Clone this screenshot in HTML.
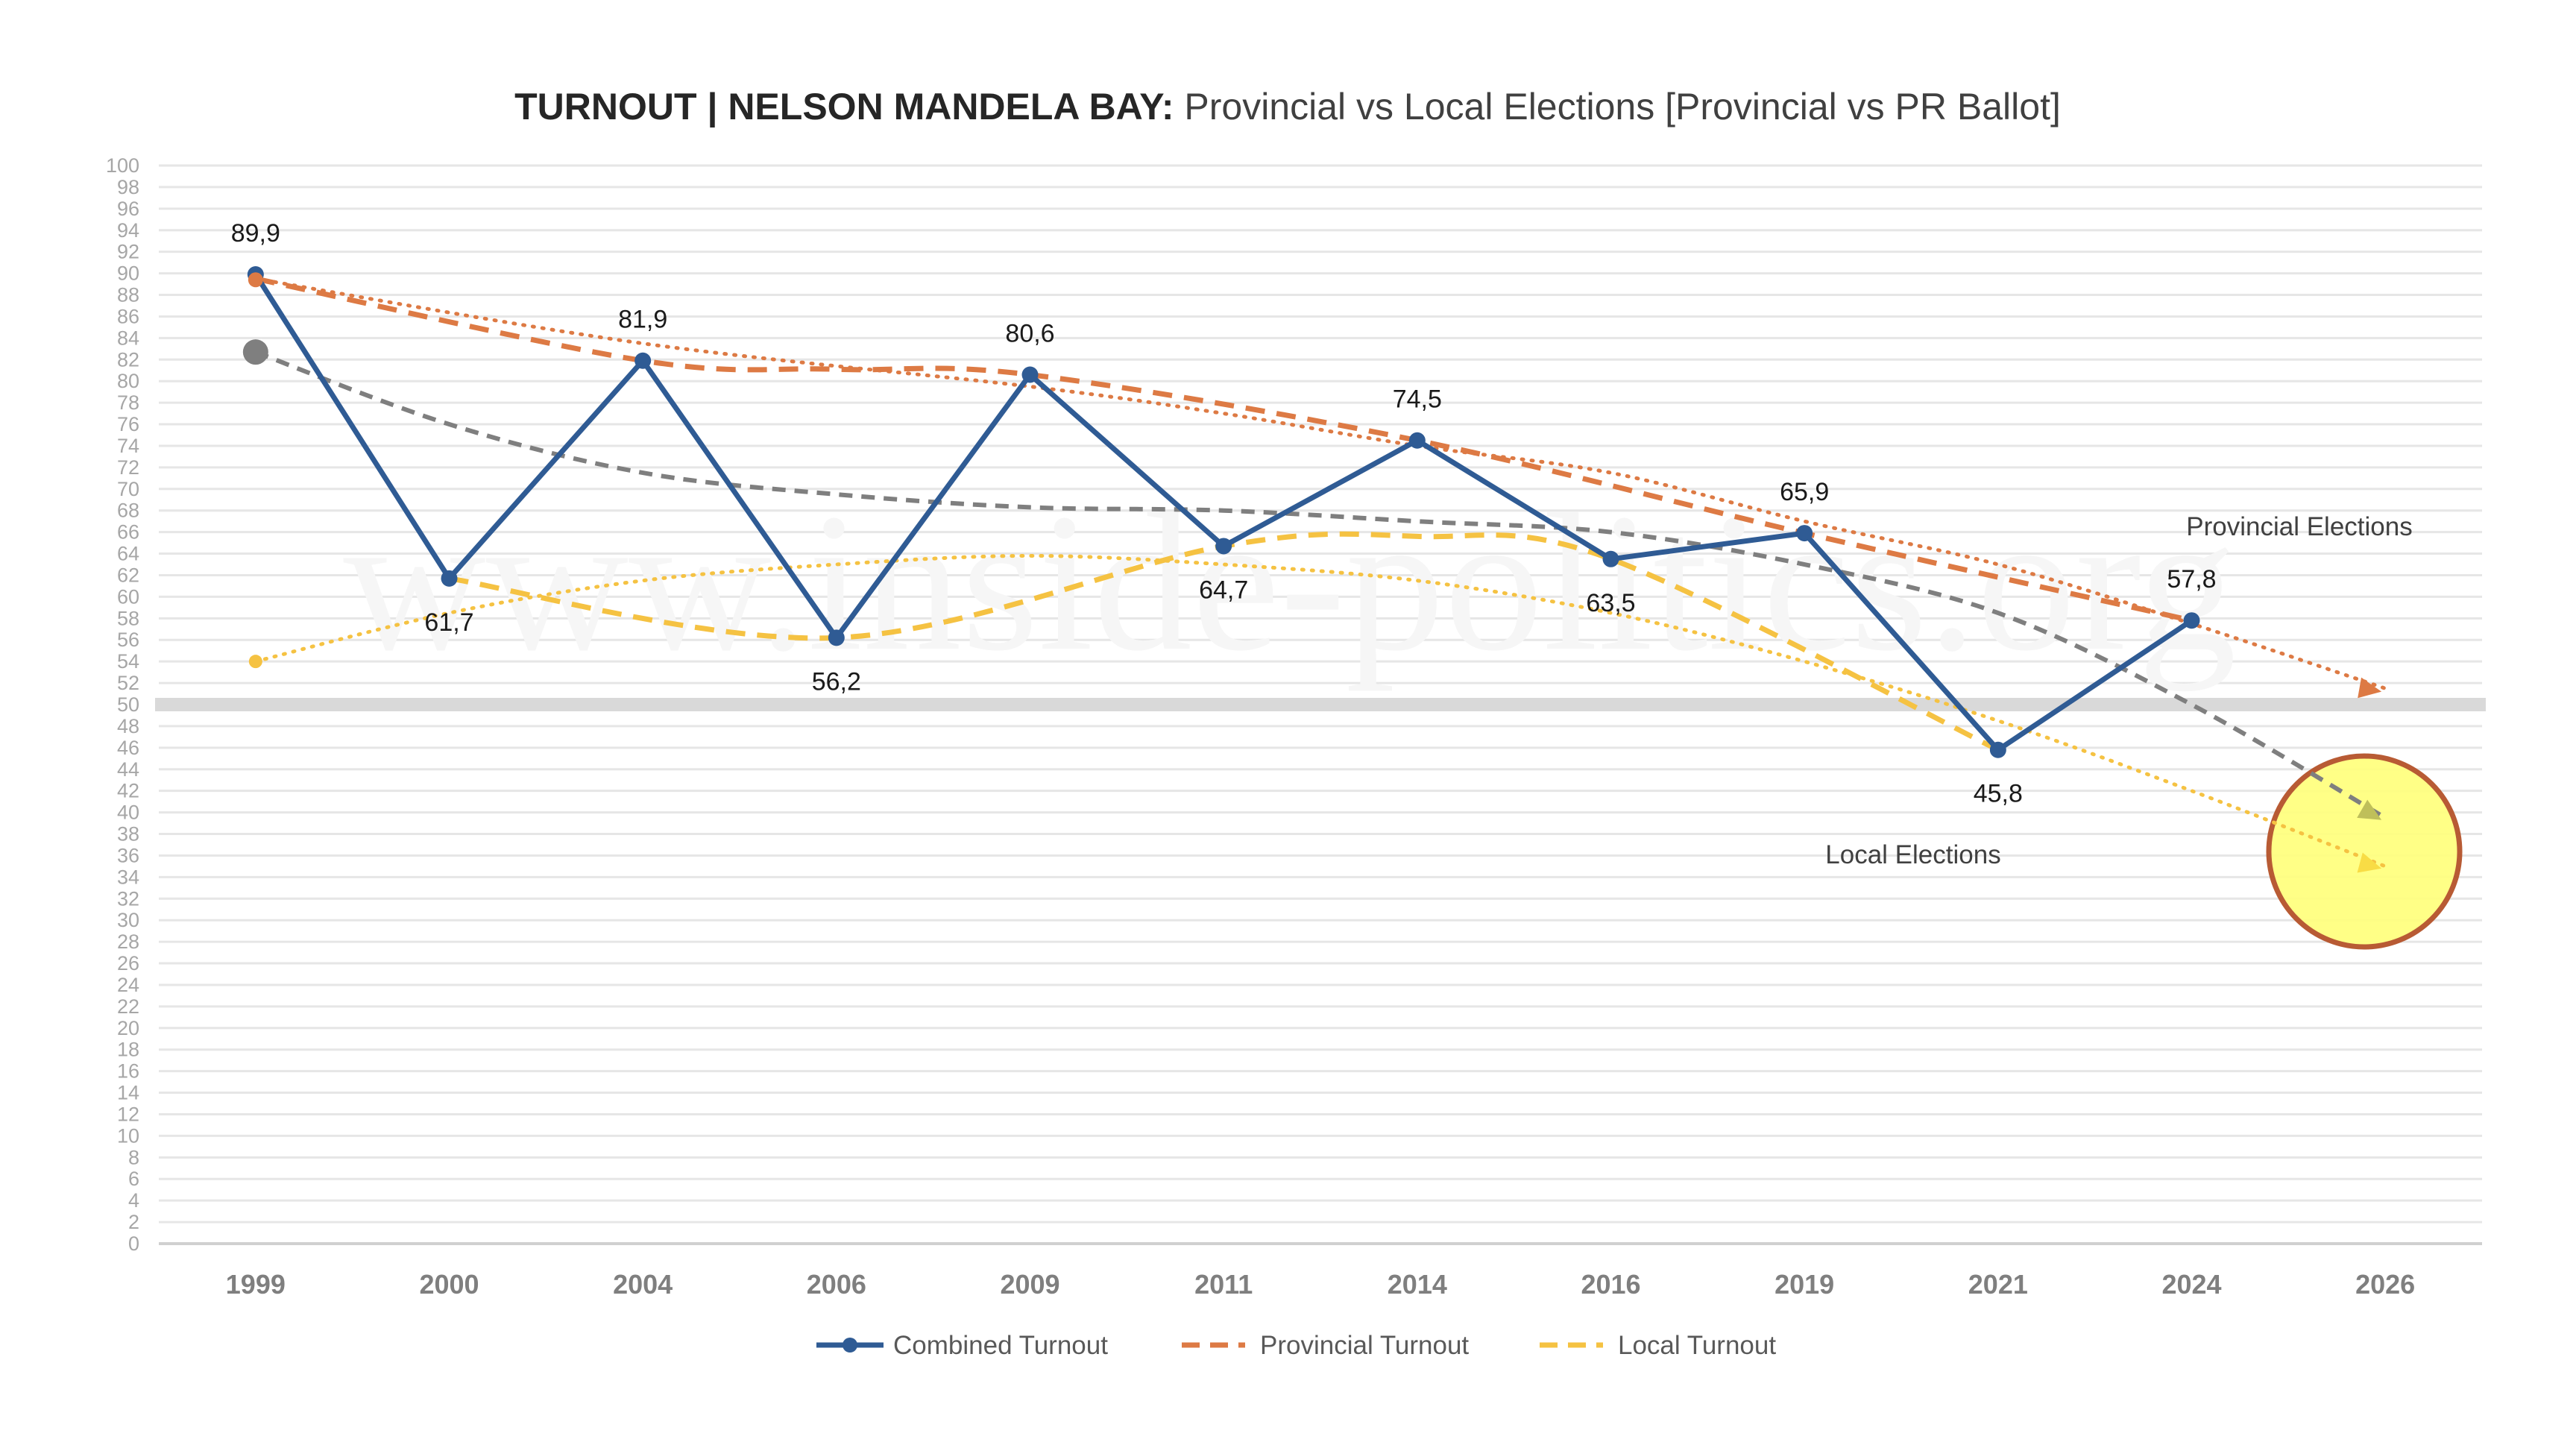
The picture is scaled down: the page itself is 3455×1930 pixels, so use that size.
<!DOCTYPE html>
<html><head><meta charset="utf-8"><style>
body{margin:0;background:#fff}
svg{display:block;font-family:"Liberation Sans",sans-serif}
</style></head><body>
<svg id="s" width="3455" height="1930" viewBox="0 0 3455 1930" xmlns="http://www.w3.org/2000/svg">
<rect width="3455" height="1930" fill="#fff"/>
<text x="1727" y="160" text-anchor="middle" font-size="50" fill="#404040"><tspan font-weight="bold" fill="#262626">TURNOUT | NELSON MANDELA BAY:</tspan> Provincial vs Local Elections [Provincial vs PR Ballot]</text>
<g id="grid"></g>
<text x="1730" y="870" text-anchor="middle" font-family="Liberation Serif,serif" font-size="265" fill="#f6f6f6">www.inside-politics.org</text>
<g id="series"></g>
</svg>
<script>
const L=213,R=3329,T=222,B=1668;
const X=i=>L+(i+0.5)*(R-L)/12, Y=v=>B-(B-T)*v/100;
const NS="http://www.w3.org/2000/svg";
function el(p,t,a,txt){const e=document.createElementNS(NS,t);for(const k in a)e.setAttribute(k,a[k]);if(txt!==undefined)e.textContent=txt;document.getElementById(p).appendChild(e);return e;}
for(let v=0;v<=100;v+=2){
 el("grid","line",{x1:L,x2:R,y1:Y(v),y2:Y(v),stroke:v==0?"#d0d0d0":"#e6e6e6","stroke-width":v==0?4:3});
 el("grid","text",{x:187,y:Y(v)+9,"text-anchor":"end","font-size":27,fill:"#a6a6a6"},v);
}
el("grid","rect",{x:L-5,y:Y(50)-9,width:R-L+10,height:18,fill:"#d9d9d9"});
const yrs=["1999","2000","2004","2006","2009","2011","2014","2016","2019","2021","2024","2026"];
yrs.forEach((y,i)=>el("grid","text",{x:X(i),y:1735,"text-anchor":"middle","font-size":36,"font-weight":"bold",fill:"#7f7f7f"},y));
function smooth(pts){let d="M"+pts[0][0]+","+pts[0][1];for(let i=0;i<pts.length-1;i++){const p0=pts[i-1]||pts[i],p1=pts[i],p2=pts[i+1],p3=pts[i+2]||p2;
 const c1=[p1[0]+(p2[0]-p0[0])/6,p1[1]+(p2[1]-p0[1])/6],c2=[p2[0]-(p3[0]-p1[0])/6,p2[1]-(p3[1]-p1[1])/6];
 d+=` C${c1[0]},${c1[1]} ${c2[0]},${c2[1]} ${p2[0]},${p2[1]}`;}return d;}
const P=a=>a.map(([i,v])=>[X(i),Y(v)]);
const tO=[[0,89.5],[2,83.5],[4,79.5],[5,77],[6,74],[7,71.5],[8,67],[9,63],[10,57.5],[11,51.5]];
const tG=[[0,82.7],[1,76],[2,71.5],[3,69.5],[4,68.3],[5,68],[6,67],[7,66],[8,63],[9,58.5],[10,50],[11,39.5]];
const tY=[[0,54],[1,58.5],[2,61.5],[3,63],[4,63.8],[5,63],[6,61.5],[7,58.5],[8,54],[9,48.5],[10,42],[11,35]];
el("series","circle",{cx:3171,cy:1142,r:128,fill:"#ffff80",stroke:"#b5532a","stroke-width":7,opacity:0.95});
el("series","path",{d:smooth(P(tO)),fill:"none",stroke:"#dd7a44","stroke-width":5,"stroke-dasharray":"2 11","stroke-linecap":"round"});
el("series","path",{d:smooth(P(tG)),fill:"none",stroke:"#7f7f7f","stroke-width":6,"stroke-dasharray":"18 12"});
el("series","path",{d:smooth(P(tY)),fill:"none",stroke:"#f5c242","stroke-width":5,"stroke-dasharray":"2 11","stroke-linecap":"round"});
function arrow(x,y,ang,col){const a=ang*Math.PI/180,l=30,w=14;const bx=x-l*Math.cos(a),by=y-l*Math.sin(a);
 el("series","polygon",{points:`${x},${y} ${bx-w*Math.sin(a)},${by+w*Math.cos(a)} ${bx+w*Math.sin(a)},${by-w*Math.cos(a)}`,fill:col});}
arrow(X(11)-5,Y(51.2),10,"#dd7a44");arrow(X(11)-5,Y(39.3),30,"#bfbf5a");arrow(X(11)-5,Y(34.8),15,"#f8dc45");
el("series","circle",{cx:X(0),cy:Y(82.7),r:17,fill:"#7f7f7f"});
el("series","circle",{cx:X(0),cy:Y(54),r:9,fill:"#f5c242"});
const pv=[[0,89.5],[2,81.9],[3,81.1],[4,80.6],[6,74.5],[8,65.9],[10,57.8]];
const lc=[[1,61.7],[3,56.2],[5,64.7],[6,65.6],[7,63.5],[9,45.8]];
el("series","path",{d:smooth(P(pv)),fill:"none",stroke:"#dd7a44","stroke-width":7,"stroke-dasharray":"26 16"});
el("series","path",{d:smooth(P(lc)),fill:"none",stroke:"#f5c242","stroke-width":7,"stroke-dasharray":"26 16"});
const cb=[89.9,61.7,81.9,56.2,80.6,64.7,74.5,63.5,65.9,45.8,57.8];
el("series","polyline",{points:cb.map((v,i)=>X(i)+","+Y(v)).join(" "),fill:"none",stroke:"#2f5b94","stroke-width":7,"stroke-linejoin":"round"});
cb.forEach((v,i)=>{el("series","circle",{cx:X(i),cy:Y(v),r:11,fill:"#2f5b94"});
 const above=[0,2,4,6,8,10].includes(i);
 el("series","text",{x:X(i),y:Y(v)+(above?-44:70),"text-anchor":"middle","font-size":34,fill:"#1a1a1a"},String(v).replace(".",","));});
el("series","circle",{cx:X(0),cy:Y(89.4),r:10,fill:"#dd7a44"});
el("series","text",{x:3084,y:718,"text-anchor":"middle","font-size":35,fill:"#404040"},"Provincial Elections");
el("series","text",{x:2566,y:1158,"text-anchor":"middle","font-size":35,fill:"#404040"},"Local Elections");
const ly=1804;
el("series","line",{x1:1095,x2:1185,y1:ly,y2:ly,stroke:"#2f5b94","stroke-width":7});
el("series","circle",{cx:1140,cy:ly,r:10,fill:"#2f5b94"});
el("series","text",{x:1198,y:ly+12,"font-size":35,fill:"#595959"},"Combined Turnout");
el("series","line",{x1:1585,x2:1670,y1:ly,y2:ly,stroke:"#dd7a44","stroke-width":7,"stroke-dasharray":"24 14"});
el("series","text",{x:1690,y:ly+12,"font-size":35,fill:"#595959"},"Provincial Turnout");
el("series","line",{x1:2065,x2:2150,y1:ly,y2:ly,stroke:"#f5c242","stroke-width":7,"stroke-dasharray":"24 14"});
el("series","text",{x:2170,y:ly+12,"font-size":35,fill:"#595959"},"Local Turnout");
</script>
</body></html>
